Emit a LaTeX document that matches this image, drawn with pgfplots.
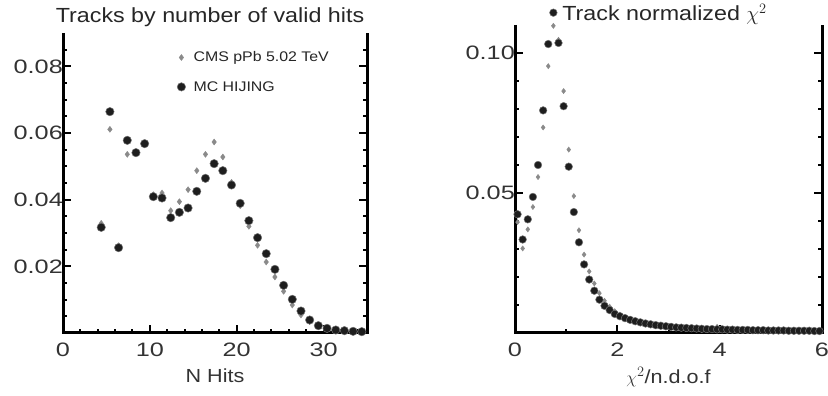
\documentclass[border=0pt]{standalone}
\usepackage{fontspec}
\setmainfont[FakeStretch=1.14]{Liberation Sans}
\newfontfamily\tickfont[FakeStretch=1.3]{Liberation Sans}
\usepackage{pgfplots}
\pgfplotsset{compat=1.18}
\definecolor{dotc}{HTML}{1E1E1E}
\definecolor{diac}{HTML}{8A8A8A}
\pgfplotsset{
  mystyle/.style={
    scale only axis,
    anchor=south west,
    axis line style={draw=none},
    xtick pos=bottom,
    ytick pos=both,
    tick align=inside,
    major tick length=8bp,
    minor tick length=4bp,
    tick style={black, line width=2bp},
    scaled y ticks=false,
    tick label style={font=\tickfont\fontsize{19.5}{20}\selectfont, text=black!80},
    yticklabel style={anchor=east, inner sep=0pt, xshift=0bp},
    xticklabel style={anchor=base, inner sep=0pt, yshift=-23bp},
    label style={font=\fontsize{19}{22}\selectfont, text=black!80},
    xlabel style={at={(0.5,0)}, anchor=base, inner sep=0pt, yshift=-49bp},
    title style={font=\fontsize{20.5}{23}\selectfont, text=black!85, at={(0.5,1)}, anchor=base, inner sep=0pt},
  },
  cms/.style={only marks, mark=diamond*, mark size=3bp, color=diac, mark options={fill=diac, draw=diac}},
  mc/.style={only marks, mark=*, mark size=4.2bp, color=dotc, mark options={fill=dotc, draw=black!55, line width=0.5bp}},
}
\begin{document}
\begin{tikzpicture}
\path[use as bounding box] (0,0) rectangle (828bp,396bp);
\draw[black, line width=3bp] (63bp,363bp) -- (63bp,63bp) -- (367bp,63bp) -- (367bp,363bp);
\draw[black, line width=3bp] (515bp,371bp) -- (515bp,63bp) -- (822bp,63bp) -- (822bp,371bp);
\begin{axis}[mystyle, name=axA,
  at={(63bp,63bp)}, width=304bp, height=300bp,
  xmin=0, xmax=35, ymin=0, ymax=0.09,
  xtick={0,10,20,30},
  xticklabels={0,10,20,30},
  minor xtick={2,4,6,8,12,14,16,18,22,24,26,28,32,34},
  ytick={0.02,0.04,0.06,0.08},
  yticklabels={0.02,0.04,0.06,0.08},
  minor ytick={0.005,0.01,0.015,0.025,0.03,0.035,0.045,0.05,0.055,0.065,0.07,0.075,0.085},
  title={Tracks by number of valid hits},
  title style={yshift=5bp, xshift=-5bp},
  xlabel={N Hits},
  legend style={draw=none, fill=none, at={(0.375,0.945)}, anchor=north west,
    font=\fontsize{14}{16}\selectfont, text=black!85, row sep=14bp, inner sep=0pt,
    /tikz/every odd column/.append style={column sep=6bp}},
  legend cell align=left,
]
\addplot[cms] table {
x y
4.4 0.0329
5.4 0.0611
6.4 0.0262
7.4 0.0536
8.4 0.0543
9.4 0.0570
10.4 0.0415
11.4 0.0420
12.4 0.0367
13.4 0.0394
14.4 0.0430
15.4 0.0487
16.4 0.0536
17.4 0.0573
18.4 0.0528
19.4 0.0452
20.4 0.0382
21.4 0.0320
22.4 0.0263
23.4 0.0213
24.4 0.0168
25.4 0.0125
26.4 0.0084
27.4 0.0054
28.4 0.0034
29.4 0.0020
30.4 0.0013
31.4 0.0008
32.4 0.0006
33.4 0.0004
34.4 0.0003
};
\addlegendentry{CMS pPb 5.02 TeV}
\addplot[mc] table {
x y
4.4 0.0317
5.4 0.0664
6.4 0.0256
7.4 0.0578
8.4 0.0541
9.4 0.0568
10.4 0.0409
11.4 0.0405
12.4 0.0346
13.4 0.0362
14.4 0.0375
15.4 0.0425
16.4 0.0464
17.4 0.0508
18.4 0.0487
19.4 0.0444
20.4 0.0389
21.4 0.0337
22.4 0.0286
23.4 0.0238
24.4 0.0191
25.4 0.0143
26.4 0.0101
27.4 0.0066
28.4 0.0039
29.4 0.0022
30.4 0.0014
31.4 0.0009
32.4 0.0007
33.4 0.0005
34.4 0.0004
};
\addlegendentry{MC HIJING}
\end{axis}
\begin{axis}[mystyle, name=axB,
  at={(515bp,63bp)}, width=307bp, height=308bp,
  clip=false,
  xmin=0, xmax=6, ymin=0, ymax=0.11,
  xtick={0,2,4,6},
  xticklabels={0,2,4,6},
  minor xtick={1,3,5},
  ytick={0.05,0.1},
  yticklabels={0.05,0.10},
  minor ytick={0.01,0.02,0.03,0.04,0.06,0.07,0.08,0.09},
  title={Track normalized $\chi^2$},
  title style={yshift=-1.5bp, xshift=-4bp},
  xlabel={$\chi^2$/n.d.o.f},
  xlabel style={yshift=-1bp},
]
\addplot[cms, mark size=2.6bp] table {
x y
0.05 0.0396
0.15 0.0302
0.25 0.0370
0.35 0.0450
0.45 0.0557
0.55 0.0734
0.65 0.0953
0.75 0.1097
0.85 0.1047
0.95 0.0864
1.05 0.0655
1.15 0.0489
1.25 0.0367
1.35 0.0280
1.45 0.0220
1.55 0.0177
1.65 0.0142
1.75 0.0115
1.85 0.0094
1.95 0.0078
2.05 0.0066
2.15 0.0057
2.25 0.0050
2.35 0.0044
2.45 0.0039
2.55 0.0035
2.65 0.0032
2.75 0.0029
2.85 0.0027
2.95 0.0025
3.05 0.0023
3.15 0.0021
3.25 0.0020
3.35 0.0019
3.45 0.0018
3.55 0.0017
3.65 0.0016
3.75 0.0015
3.85 0.0015
3.95 0.0022
4.05 0.0014
4.15 0.0013
4.25 0.0013
4.35 0.0012
4.45 0.0012
4.55 0.0011
4.65 0.0011
4.75 0.0011
4.85 0.0010
4.95 0.0010
5.05 0.0010
5.15 0.0010
5.25 0.0009
5.35 0.0009
5.45 0.0009
5.55 0.0009
5.65 0.0008
5.75 0.0008
5.85 0.0008
5.95 0.0008
};
\addplot[mc, mark size=3.8bp] table {
x y
0.05 0.0424
0.15 0.0334
0.25 0.0406
0.35 0.0486
0.45 0.0600
0.55 0.0795
0.65 0.1032
0.75 0.1144
0.85 0.1036
0.95 0.0810
1.05 0.0594
1.15 0.0432
1.25 0.0324
1.35 0.0245
1.45 0.0191
1.55 0.0151
1.65 0.0119
1.75 0.0097
1.85 0.0082
1.95 0.0068
2.05 0.0060
2.15 0.0053
2.25 0.0047
2.35 0.0042
2.45 0.0038
2.55 0.0034
2.65 0.0031
2.75 0.0028
2.85 0.0026
2.95 0.0024
3.05 0.0022
3.15 0.0020
3.25 0.0019
3.35 0.0018
3.45 0.0017
3.55 0.0016
3.65 0.0015
3.75 0.0014
3.85 0.0014
3.95 0.0013
4.05 0.0013
4.15 0.0012
4.25 0.0012
4.35 0.0011
4.45 0.0011
4.55 0.0011
4.65 0.0010
4.75 0.0010
4.85 0.0010
4.95 0.0009
5.05 0.0009
5.15 0.0009
5.25 0.0009
5.35 0.0008
5.45 0.0008
5.55 0.0008
5.65 0.0008
5.75 0.0008
5.85 0.0007
5.95 0.0007
};
\end{axis}
\end{tikzpicture}
\end{document}
